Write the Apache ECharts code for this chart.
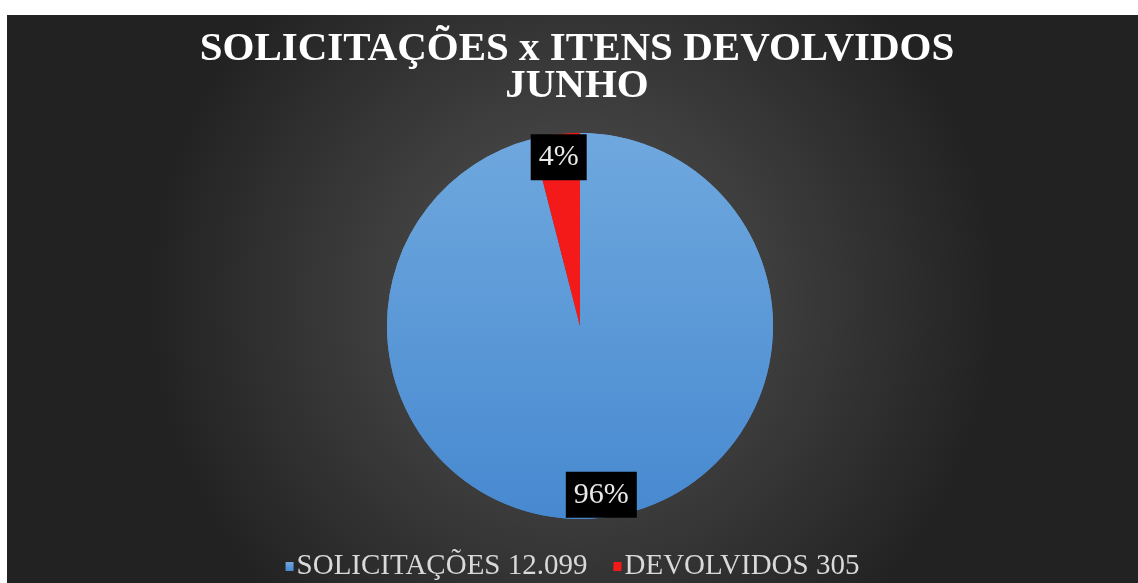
<!DOCTYPE html>
<html>
<head>
<meta charset="utf-8">
<script src="https://cdn.jsdelivr.net/npm/echarts@6/dist/echarts.min.js"></script>
<style>
  html, body { margin: 0; padding: 0; background: #fff; }
  #chart { position: absolute; left: 7px; top: 15px; width: 1131px; height: 568px; }
</style>
</head>
<body>
<div id="chart"></div>
<script>
  // legend names (with the totals) and the shares shown on the slices
  const categories = ['SOLICITAÇÕES 12.099', 'DEVOLVIDOS 305'];
  const shares = [96, 4];
  const colors = [
    new echarts.graphic.LinearGradient(0, 0, 0, 1, [
      { offset: 0, color: '#6fa8de' },
      { offset: 1, color: '#4789d0' }
    ]),
    '#f51a1a'
  ];

  const chart = echarts.init(document.getElementById('chart'));
  const pieData = categories.map((name, i) => ({
    name: name,
    value: shares[i],
    itemStyle: { color: colors[i] }
  }));

  const option = {
    backgroundColor: {
      type: 'radial', x: 0.5, y: 0.5, r: 0.75,
      colorStops: [
        { offset: 0, color: '#555555' },
        { offset: 1, color: '#222222' }
      ]
    },
    animation: false,
    title: {
      text: 'SOLICITAÇÕES x ITENS DEVOLVIDOS\nJUNHO',
      left: 565,
      textAlign: 'center',
      top: 11,
      textStyle: {
        fontFamily: 'Liberation Serif',
        fontWeight: 'bold',
        fontSize: 41,
        lineHeight: 37,
        color: '#ffffff'
      }
    },
    legend: {
      bottom: -3,
      left: 'center',
      itemWidth: 8,
      itemHeight: 9,
      itemGap: 26,
      icon: 'rect',
      data: categories,
      textStyle: {
        fontFamily: 'Liberation Serif',
        fontSize: 29,
        color: '#d9d9d9',
        padding: [0, 0, 0, -2]
      }
    },
    series: [
      {
        type: 'pie',
        center: [573, 311],
        radius: [0, 193],
        startAngle: 90,
        clockwise: true,
        silent: true,
        label: { show: false },
        labelLine: { show: false },
        data: pieData
      },
      {
        // outer ring on top of the pie, only to place the labels near the rim
        type: 'pie',
        center: [573, 311],
        radius: [141, 193],
        startAngle: 90,
        clockwise: true,
        silent: true,
        label: {
          show: true,
          position: 'inside',
          formatter: '{c}%',
          fontFamily: 'Liberation Serif',
          fontSize: 30,
          color: '#e8e8e8',
          backgroundColor: '#000000',
          padding: [9, 8, 7, 8]
        },
        labelLine: { show: false },
        data: pieData
      }
    ]
  };

  chart.setOption(option);
</script>
</body>
</html>
